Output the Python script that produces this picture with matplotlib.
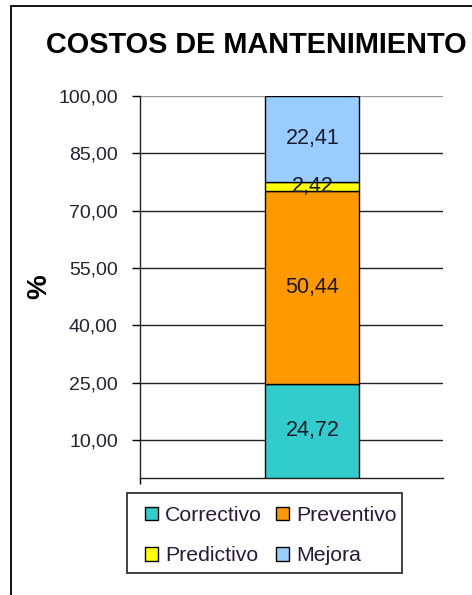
import matplotlib
matplotlib.use("Agg")
import matplotlib.pyplot as plt
from matplotlib.patches import Rectangle, Patch

plt.rcParams["font.family"] = ["Liberation Sans", "DejaVu Sans"]

# maintenance cost split, % of total
categories = ["Correctivo", "Preventivo", "Predictivo", "Mejora"]
values = [24.72, 50.44, 2.42, 22.41]
colors = ["#33CCCC", "#FF9900", "#FFFF00", "#99CCFF"]
yticks = [10, 25, 40, 55, 70, 85, 100]

W, H = 472, 595
fig = plt.figure(figsize=(W / 100, H / 100), dpi=100)
ax = fig.add_axes([140 / W, 117 / H, 303 / W, 382 / H])

bottom = 0.0
for name, v, c in zip(categories, values, colors):
    ax.bar(0, v, width=0.31, bottom=bottom, color=c, edgecolor="black",
           linewidth=1.0, label=name, zorder=3)
    ax.text(0, bottom + v / 2, f"{v:.2f}".replace(".", ","), ha="center",
            va="center", fontsize=15.5, color="#1a1a2a", zorder=4)
    bottom += v

ax.set_xlim(-0.569, 0.431)
ax.set_ylim(0, 100)
ax.set_yticks(yticks)
ax.set_yticklabels([f"{t:.2f}".replace(".", ",") for t in yticks],
                   fontsize=14, color="#222233")
ax.tick_params(axis="y", direction="out", length=6, width=1.0, pad=10)
ax.set_xticks([-0.569])
ax.set_xticklabels([""])
ax.tick_params(axis="x", direction="out", length=4.5, width=1.0)

for t in yticks:
    ax.axhline(t, color="#999999" if t == 100 else "#222222",
               lw=1.0, zorder=1)

for s in ("top", "right"):
    ax.spines[s].set_visible(False)
for s in ("left", "bottom"):
    ax.spines[s].set_linewidth(1.0)
    ax.spines[s].set_color("#222222")

ax.set_ylabel("%", fontsize=20, fontweight="bold", labelpad=4)

fig.text(256 / W, 1 - 45 / H, "COSTOS DE MANTENIMIENTO", ha="center",
         va="center", fontsize=20.8, fontweight="bold")

# legend: two rows, filled row-wise; its box is drawn separately
order = [0, 2, 1, 3]
handles = [Patch(facecolor=colors[i], edgecolor="black", lw=1.0) for i in order]
labels = [categories[i] for i in order]
fig.legend(handles, labels, ncol=2, loc="upper left",
           bbox_to_anchor=(145 / W, 1 - 506 / H), borderaxespad=0,
           borderpad=0, fontsize=15.3, frameon=False,
           handlelength=0.6, handleheight=0.6, handletextpad=0.35,
           columnspacing=0.66, labelspacing=1.0, labelcolor="#2a1a3a")
fig.add_artist(Rectangle((127 / W, 1 - 573 / H), 275 / W, 80 / H,
                         transform=fig.transFigure, fill=False,
                         edgecolor="#333333", lw=1.3))

# outer chart frame
fig.add_artist(Rectangle((11 / W, -0.2), 2.0, (H - 6) / H + 0.2,
                         transform=fig.transFigure, fill=False,
                         edgecolor="black", lw=1.3))

fig.savefig("out.png", dpi=100)
